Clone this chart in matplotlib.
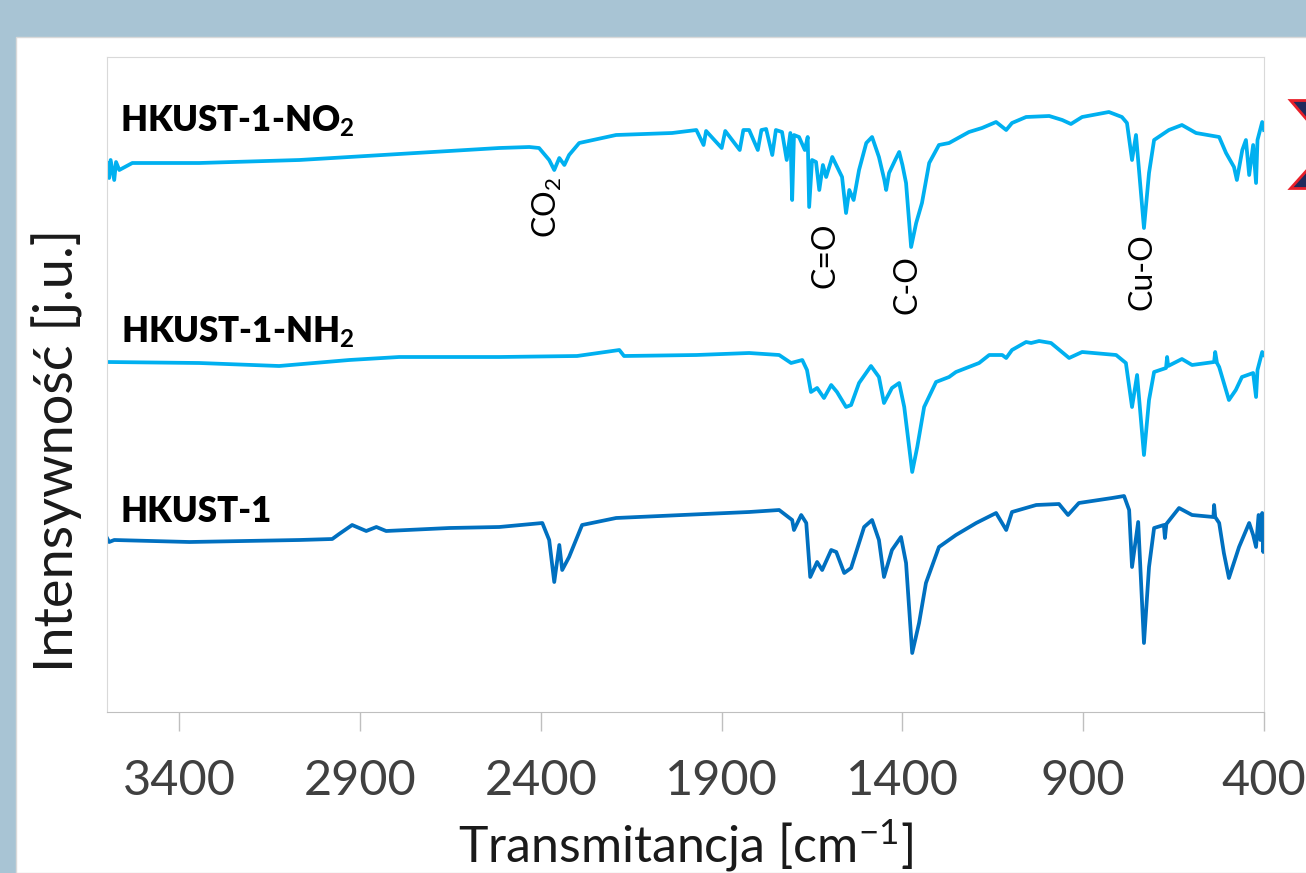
import matplotlib
matplotlib.use("Agg")
import matplotlib.pyplot as plt
from matplotlib.patches import Rectangle, Polygon

plt.rcParams['font.family'] = ['Lato', 'DejaVu Sans']
plt.rcParams['mathtext.fontset'] = 'custom'
plt.rcParams['mathtext.rm'] = 'Lato'
plt.rcParams['mathtext.it'] = 'Lato:italic'
plt.rcParams['mathtext.bf'] = 'Lato:bold'

# -----------------------------
# Spectra (wavenumber [cm-1], intensity [a.u.])
# -----------------------------
no2_wn = [3600, 3594, 3590, 3580, 3575, 3566, 3530, 3345, 3068, 2792, 2515, 2432, 2405,
          2377, 2363, 2349, 2335, 2322, 2294, 2192, 2037, 1970, 1950, 1943, 1900, 1890,
          1850, 1840, 1824, 1800, 1790, 1777, 1760, 1750, 1733, 1720, 1710, 1705, 1700,
          1686, 1670, 1662, 1658, 1650, 1639, 1630, 1620, 1611, 1594, 1567, 1556, 1547,
          1535, 1520, 1500, 1484, 1465, 1450, 1445, 1437, 1420, 1409, 1400, 1390, 1376,
          1362, 1346, 1326, 1299, 1271, 1216, 1180, 1141, 1113, 1097, 1058, 994, 958,
          934, 903, 829, 793, 779, 765, 754, 732, 718, 704, 663, 627, 588, 524, 505,
          483, 475, 460, 450, 441, 430, 422, 418, 405, 400]
no2_int = [549, 534, 552, 532, 550, 542, 549, 549, 552, 558, 564, 565, 564,
           552, 542, 554, 547, 557, 569, 577, 579, 582, 567, 581, 564, 581,
           562, 582, 582, 562, 582, 583, 557, 582, 580, 552, 579, 512, 577,
           575, 562, 575, 505, 552, 550, 522, 547, 535, 555, 535, 499, 522,
           512, 542, 569, 575, 555, 532, 522, 539, 552, 560, 547, 529, 465,
           489, 509, 549, 567, 569, 580, 584, 590, 582, 589, 595, 596, 592,
           588, 595, 600, 595, 589, 552, 577, 484, 539, 572, 582, 587, 579, 575, 559,
           545, 532, 562, 572, 537, 567, 529, 572, 590, 582]

nh2_wn = [3600, 3345, 3124, 2930, 2792, 2515, 2300, 2183, 2170, 1970, 1824, 1741, 1708,
          1677, 1664, 1653, 1636, 1617, 1597, 1581, 1556, 1542, 1520, 1487, 1465, 1451,
          1429, 1409, 1395, 1373, 1359, 1340, 1307, 1271, 1252, 1188, 1160, 1124, 1113,
          1097, 1058, 1044, 1022, 989, 939, 903, 809, 782, 765, 751, 732, 718, 704, 671,
          668, 665, 627, 599, 538, 535, 530, 524, 497, 478, 461, 430, 422, 418, 405, 400]
nh2_int = [350, 349, 346, 352, 355, 355, 356, 362, 356, 357, 359, 357, 349,
           352, 342, 320, 324, 314, 327, 320, 305, 307, 329, 346, 335, 309,
           324, 329, 305, 240, 265, 305, 330, 335, 340, 349, 357, 357, 354,
           362, 370, 369, 371, 369, 354, 360, 357, 349, 305, 337, 257, 312, 340, 344,
           355, 346, 353, 347, 350, 360, 349, 345, 312, 322, 335, 339, 315, 342, 360, 357]

hk_wn = [3600, 3594, 3580, 3372, 3068, 2977, 2958, 2922, 2883, 2855, 2828, 2653, 2515,
         2396, 2377, 2363, 2349, 2341, 2322, 2286, 2192, 2009, 1824, 1741, 1705, 1700,
         1680, 1666, 1655, 1636, 1622, 1597, 1583, 1561, 1542, 1506, 1484, 1465, 1451,
         1429, 1404, 1390, 1373, 1354, 1335, 1299, 1252, 1196, 1141, 1113, 1097, 1030,
         967, 942, 912, 820, 787, 773, 765, 748, 732, 718, 704, 677, 674, 670, 635, 599,
         540, 538, 535, 524, 511, 497, 469, 441, 430, 422, 415, 410, 405, 402, 400]
hk_int = [174, 170, 172, 170, 172, 173, 178, 187, 181, 185, 181, 184, 185,
          189, 172, 130, 167, 142, 155, 187, 194, 197, 200, 202, 192, 182,
          197, 189, 135, 150, 142, 162, 160, 139, 144, 185, 192, 172, 135,
          162, 175, 149, 59, 89, 129, 165, 177, 189, 199, 182, 200, 207,
          208, 197, 209, 214, 216, 202, 145, 190, 69, 145, 184, 187, 174, 188, 204, 197,
          195, 207, 195, 189, 159, 134, 165, 189, 177, 165, 197, 172, 199, 160, 182]

series = [
    (r'HKUST-1-NO$_\mathbf{2}$', no2_wn, no2_int, '#00b0f0', (3564, 580)),
    (r'HKUST-1-NH$_\mathbf{2}$', nh2_wn, nh2_int, '#00b0f0', (3560, 369)),
    ('HKUST-1', hk_wn, hk_int, '#0070c0', (3564, 190)),
]

# band annotations: (text, wavenumber, intensity)
bands = [
    (r'CO$_2$', 2382, 505),
    ('C=O', 1614, 457),
    ('C-O', 1387, 427),
    ('Cu-O', 737, 440),
]

x_ticks = [3400, 2900, 2400, 1900, 1400, 900, 400]

# -----------------------------
# Figure
# -----------------------------
W, H = 1306, 873
fig = plt.figure(figsize=(W / 100, H / 100), dpi=100, facecolor='#a8c4d4')

# white slide panel
fig.patches.append(Rectangle((16 / W, 0), 1.0, (H - 37) / H, transform=fig.transFigure,
                             facecolor='white', edgecolor='#d9d9d9', lw=1, zorder=-2))
# cropped decoration at the right edge
for pts in ([(1290, 100), (1308, 100), (1308, 121)], [(1290, 188), (1308, 188), (1308, 168)]):
    fig.patches.append(Polygon([(px / W, 1 - py / H) for px, py in pts], closed=True,
                               transform=fig.transFigure, facecolor='#1f2a5c',
                               edgecolor='#e8202a', lw=2, zorder=-1))

ax = fig.add_axes([107 / W, 1 - 712 / H, (1264 - 107) / W, (712 - 57) / H])
ax.set_zorder(2)
ax.set_facecolor('white')

for name, wn, inten, color, (lx, ly) in series:
    ax.plot(wn, inten, color=color, lw=2.7, solid_joinstyle='round')
    ax.text(lx, ly, name, fontsize=25, fontweight='heavy', ha='left', va='baseline',
            color='black')

for txt, wn, inten in bands:
    ax.text(wn, inten, txt, fontsize=23, rotation=90, ha='center', va='center',
            color='black')

ax.set_xlim(3600, 400)
ax.set_ylim(0, 655)
ax.set_xticks(x_ticks)
ax.set_yticks([])
ax.tick_params(axis='x', direction='out', length=14, width=1, color='#bfbfbf',
               labelsize=35, labelcolor='#404040', pad=20)
for side in ['top', 'right', 'left']:
    ax.spines[side].set_color('#d9d9d9')
ax.spines['bottom'].set_color('#bfbfbf')

fig.text(685 / W, 11 / H, 'Transmitancja [cm$^{-1}$]', fontsize=36, ha='center',
         va='baseline', color='#1a1a1a')
fig.text(57 / W, 1 - 450 / H, 'Intensywność [j.u.]', fontsize=39, rotation=90,
         ha='center', va='center', color='#1a1a1a')

fig.savefig('out.png', dpi=100, facecolor=fig.get_facecolor())
